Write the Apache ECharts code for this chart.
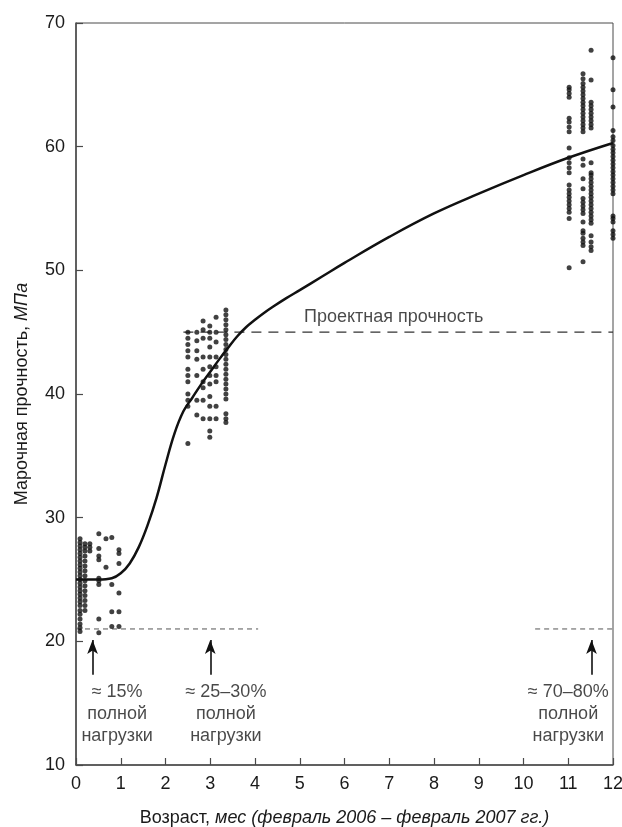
<!DOCTYPE html>
<html>
<head>
<meta charset="utf-8">
<script src="https://cdn.jsdelivr.net/npm/echarts@6/dist/echarts.min.js"></script>
<style>
  html, body { margin: 0; padding: 0; background: #fff; }
  #main { width: 622px; height: 827px; }
</style>
</head>
<body>
<div id="main"></div>
<script>
// --- данные ---
// кривая набора прочности
var curveX = [0, 0.5, 0.8, 1.0, 1.2, 1.4, 1.6, 1.8, 2.0, 2.2, 2.4, 2.6, 2.8, 3.0, 3.2, 3.4, 3.6, 3.8, 4.0, 4.2, 4.4, 4.7, 5.0, 5.5, 6, 7, 8, 9, 10, 11, 12];
var curveY = [25.0, 25.0, 25.1, 25.5, 26.3, 27.6, 29.4, 31.6, 34.3, 36.8, 38.6, 39.7, 40.8, 41.8, 42.8, 43.75, 44.65, 45.4, 46.0, 46.55, 47.05, 47.75, 48.4, 49.5, 50.6, 52.7, 54.6, 56.2, 57.7, 59.1, 60.3];

// точки испытаний: возраст колонки и значения в ней
var colX = [0.09, 0.2, 0.31, 0.51, 0.67, 0.8, 0.96,
            2.5, 2.7, 2.84, 2.99, 3.13, 3.35,
            11.02, 11.33, 11.51, 12.0];
var colY = [
  [20.8, 21.1, 21.4, 21.8, 22.2, 22.5, 22.9, 23.2, 23.5, 23.8, 24.1, 24.4, 24.7, 25.0, 25.3, 25.6, 25.9, 26.2, 26.5, 26.8, 27.1, 27.4, 27.7, 28.0, 28.3],
  [22.5, 22.9, 23.3, 23.7, 24.1, 24.5, 24.9, 25.3, 25.7, 26.1, 26.5, 26.9, 27.3, 27.6, 27.9],
  [27.3, 27.6, 27.9],
  [20.7, 21.8, 24.6, 24.9, 25.1, 26.6, 26.9, 27.5, 28.7],
  [26.0, 28.3],
  [21.2, 22.4, 24.6, 28.4],
  [21.2, 22.4, 23.9, 26.3, 27.1, 27.4],
  [36.0, 39.0, 39.5, 40.0, 41.0, 41.5, 42.0, 43.0, 43.5, 44.0, 44.5, 45.0],
  [38.3, 39.5, 41.5, 42.8, 43.5, 44.3, 45.0],
  [38.0, 39.5, 40.5, 41.0, 42.0, 43.0, 44.5, 45.2, 45.9],
  [36.5, 37.0, 38.0, 39.0, 39.8, 40.8, 41.5, 42.2, 43.0, 43.8, 44.5, 45.0, 45.5],
  [38.0, 39.0, 41.0, 41.5, 42.2, 43.0, 44.2, 45.0, 46.2],
  [37.7, 38.0, 38.4, 39.6, 40.0, 40.4, 40.8, 41.2, 41.6, 42.0, 42.4, 42.8, 43.2, 43.6, 44.0, 44.4, 44.8, 45.2, 45.6, 46.0, 46.4, 46.8],
  [50.2, 54.2, 54.7, 55.0, 55.3, 55.6, 55.9, 56.2, 56.5, 56.9, 57.9, 58.3, 58.7, 59.1, 59.9, 61.2, 61.6, 62.0, 62.3, 64.0, 64.3, 64.6, 64.8],
  [50.7, 52.0, 52.3, 52.6, 53.0, 53.2, 53.9, 54.6, 54.9, 55.2, 55.5, 55.8, 56.6, 57.4, 58.5, 59.0, 61.2, 61.5, 61.8, 62.1, 62.4, 62.7, 63.0, 63.3, 63.6, 63.9, 64.2, 64.5, 64.8, 65.1, 65.5, 65.9],
  [51.6, 51.9, 52.3, 52.8, 53.8, 54.1, 54.4, 54.7, 55.0, 55.3, 55.6, 55.9, 56.2, 56.5, 56.8, 57.1, 57.4, 57.7, 57.9, 58.7, 61.5, 61.8, 62.1, 62.4, 62.7, 63.0, 63.3, 63.6, 65.4, 67.8],
  [52.6, 52.9, 53.2, 53.9, 54.2, 54.4, 56.2, 56.5, 56.8, 57.1, 57.4, 57.7, 58.0, 58.3, 58.6, 58.9, 59.2, 59.5, 59.8, 60.1, 60.5, 60.8, 61.3, 63.2, 64.6, 67.2]
];

// проектная прочность и уровни нагрузки
var designStrength = 45;
var designFrom = 2.4;
var loadLevel = 21;
var loadSpans = [[0, 4.07], [10.26, 12]];
var arrowX = [0.37, 3.0, 11.52];
var arrowFromY = 17.3;
var arrowToY = 20.1;
var noteX = [0.92, 3.35, 11.0];
var noteY = 14.15;
var noteText = ['≈ 15%\nполной\nнагрузки', '≈ 25–30%\nполной\nнагрузки', '≈ 70–80%\nполной\nнагрузки'];
var designLabel = 'Проектная прочность';
var designLabelAt = [7.1, 46.2];

var xTicks = [0, 12, 1];
var yTicks = [10, 70, 10];

// --- сборка ---
var FONT = 'Liberation Sans, Arial, sans-serif';
var INK = '#1a1a1a';
var AXIS = '#4a4a4a';

function buildPoints() {
  var pts = [];
  for (var i = 0; i < colX.length; i++) {
    for (var j = 0; j < colY[i].length; j++) {
      pts.push([colX[i], colY[i][j]]);
    }
  }
  return pts;
}

function buildCurve() {
  var d = [];
  for (var i = 0; i < curveX.length; i++) d.push([curveX[i], curveY[i]]);
  return d;
}

var series = [];

series.push({
  name: 'design',
  type: 'line',
  data: [[designFrom, designStrength], [12, designStrength]],
  symbol: 'none',
  silent: true,
  lineStyle: { color: '#333', width: 1.2, type: [10, 7] },
  z: 1
});

loadSpans.forEach(function (s) {
  series.push({
    type: 'line',
    data: [[s[0], loadLevel], [s[1], loadLevel]],
    symbol: 'none',
    silent: true,
    lineStyle: { color: '#555', width: 1, type: [5, 4] },
    z: 1
  });
});

series.push({
  name: 'points',
  type: 'scatter',
  data: buildPoints(),
  symbol: 'circle',
  symbolSize: 5,
  itemStyle: { color: '#111' },
  clip: false,
  z: 3
});

series.push({
  name: 'curve',
  type: 'line',
  data: buildCurve(),
  smooth: 0.4,
  symbol: 'none',
  lineStyle: { color: '#111', width: 2.5 },
  z: 4
});

// стрелки
series.push({
  type: 'line',
  data: [],
  silent: true,
  markLine: {
    silent: true,
    animation: false,
    symbol: ['none', 'arrow'],
    symbolSize: [8, 14],
    label: { show: false },
    lineStyle: { color: '#111', width: 1.6, type: 'solid' },
    data: arrowX.map(function (x) {
      return [{ coord: [x, arrowFromY] }, { coord: [x, arrowToY] }];
    })
  }
});

// подписи
var notes = noteX.map(function (x, i) { return { value: [x, noteY], txt: noteText[i] }; });
notes.push({ value: designLabelAt, txt: designLabel });
series.push({
  type: 'scatter',
  data: notes,
  symbolSize: 0,
  silent: true,
  label: {
    show: true,
    position: 'inside',
    formatter: function (p) { return p.data.txt; },
    fontFamily: FONT,
    fontSize: 18,
    lineHeight: 22,
    color: INK,
    align: 'center',
    verticalAlign: 'middle'
  },
  z: 5
});

var chart = echarts.init(document.getElementById('main'), null, { renderer: 'canvas' });
chart.setOption({
  animation: false,
  backgroundColor: '#fff',
  textStyle: { fontFamily: FONT },
  grid: {
    left: 76, right: 9, top: 23, bottom: 62,
    outerBoundsMode: 'none',
    containLabel: false,
    show: true, borderColor: AXIS, borderWidth: 1, backgroundColor: 'transparent'
  },
  xAxis: {
    type: 'value',
    min: xTicks[0], max: xTicks[1], interval: xTicks[2],
    name: '{n|Возраст, }{i|мес (февраль 2006 – февраль 2007 гг.)}',
    nameLocation: 'middle',
    nameGap: 44,
    nameTextStyle: {
      rich: {
        n: { fontFamily: FONT, fontSize: 18, color: INK },
        i: { fontFamily: FONT, fontSize: 18, color: INK, fontStyle: 'italic' }
      }
    },
    axisLine: { show: true, lineStyle: { color: AXIS, width: 1.5 } },
    axisTick: { show: true, inside: true, length: 7, lineStyle: { color: AXIS, width: 1.2 } },
    axisLabel: { fontFamily: FONT, fontSize: 18, color: INK, margin: 10 },
    splitLine: { show: false }
  },
  yAxis: {
    type: 'value',
    min: yTicks[0], max: yTicks[1], interval: yTicks[2],
    name: '{n|Марочная прочность, }{i|МПа}',
    nameLocation: 'middle',
    nameGap: 45,
    nameTextStyle: {
      rich: {
        n: { fontFamily: FONT, fontSize: 18, color: INK },
        i: { fontFamily: FONT, fontSize: 18, color: INK, fontStyle: 'italic' }
      }
    },
    axisLine: { show: true, lineStyle: { color: AXIS, width: 1.5 } },
    axisTick: { show: true, inside: true, length: 7, lineStyle: { color: AXIS, width: 1.2 } },
    axisLabel: { fontFamily: FONT, fontSize: 18, color: INK, margin: 11 },
    splitLine: { show: false }
  },
  series: series
});
</script>
</body>
</html>
